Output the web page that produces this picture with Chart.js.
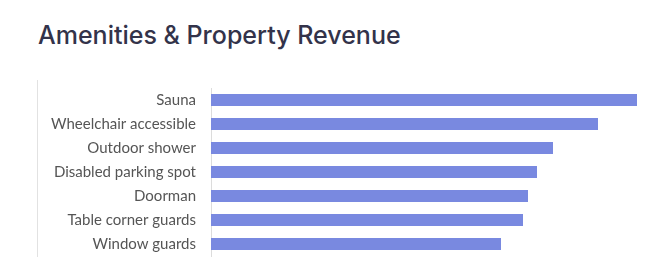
<!DOCTYPE html>
<html lang="en">
<head>
    <meta charset="UTF-8">
    <title>Amenities & Property Revenue</title>
    <script src="https://cdn.jsdelivr.net/npm/chart.js"></script>
    <style>
        body {
            margin: 0;
            background: #fff;
            width: 659px;
            height: 257px;
            overflow: hidden;
            position: relative;
        }

        h2 {
            position: absolute;
            left: 38px;
            top: 20px;
            margin: 0;
            font-family: 'Inter', sans-serif;
            font-weight: 500;
            font-size: 25px;
            color: #33334a;
        }

        .chart-box {
            position: absolute;
            left: 37px;
            top: 80px;
            width: 621px;
            height: 177px;
            border-left: 1px solid #e2e2e2;
        }
    </style>
</head>
<body>
    <h2>Amenities &amp; Property Revenue</h2>
    <div class="chart-box">
        <canvas id="amenitiesChart" width="621" height="177"></canvas>
    </div>

    <script>
        let amenities = ["Sauna", "Wheelchair accessible", "Outdoor shower", "Disabled parking spot", "Doorman", "Table corner guards", "Window guards"];
        let revenue = [4260, 3870, 3420, 3260, 3170, 3120, 2900];

        let ctx = document.getElementById('amenitiesChart').getContext('2d');
        let amenitiesChart = new Chart(ctx, {
            type: 'bar',
            data: {
                labels: amenities,
                datasets: [{
                    label: 'Revenue',
                    data: revenue,
                    backgroundColor: '#7989e0',
                    barPercentage: 0.5,
                    categoryPercentage: 1
                }]
            },
            options: {
                indexAxis: 'y',
                responsive: false,
                animation: false,
                layout: { padding: { top: 8, bottom: 1, right: 22, left: 0 } },
                scales: {
                    x: {
                        display: false,
                        min: 0,
                        max: 4260
                    },
                    y: {
                        grid: { display: false, drawTicks: false },
                        border: { display: true, color: '#dcdcdc' },
                        ticks: {
                            padding: 15,
                            color: '#555',
                            font: { family: 'Lato', size: 15 }
                        },
                        afterFit: (scale) => {
                            // keep the label padding horizontal only
                            scale.width = 173;
                            scale.paddingTop = 0;
                            scale.paddingBottom = 0;
                        }
                    }
                },
                plugins: {
                    legend: { display: false },
                    tooltip: { enabled: false }
                }
            }
        });
    </script>
</body>
</html>
